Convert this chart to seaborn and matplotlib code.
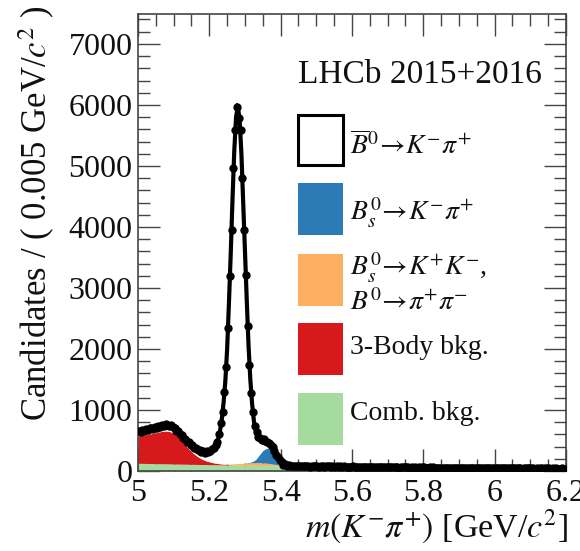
import numpy as np
import matplotlib
matplotlib.use("Agg")
import matplotlib.pyplot as plt
from matplotlib.patches import Rectangle
from matplotlib.ticker import MultipleLocator
import seaborn as sns

# --- data: m(K-pi+) candidates per 5 MeV bin, 5.0 - 6.2 GeV ---
bin_lo, bin_width = 5.0, 0.005
counts = [
    655, 640, 672, 660, 690, 668, 702, 712, 688, 720,
    705, 735, 716, 748, 730, 775, 752, 745, 760, 722,
    700, 662, 655, 610, 598, 545, 532, 480, 472, 425,
    418, 372, 375, 338, 345, 312, 325, 302, 322, 310,
    330, 358, 372, 418, 470, 610, 790, 970, 1300, 1710,
    2340, 3190, 3950, 4960, 5590, 5960, 5790, 5590, 4800, 3950,
    3220, 2380, 1740, 1280, 970, 730, 640, 560, 535, 508,
    520, 490, 480, 465, 430, 400, 330, 262, 225, 180,
    140, 98, 110, 88, 95, 82, 90, 76, 85, 80,
    78, 86, 74, 82, 77, 84, 72, 80, 75, 79,
    80, 71, 76, 83, 70, 78, 74, 81, 69, 77,
    72, 79, 68, 75, 70, 77, 66, 73, 71, 69,
    74, 65, 70, 68, 73, 63, 69, 71, 64, 68,
    62, 70, 65, 61, 68, 64, 59, 66, 63, 67,
    60, 66, 62, 58, 65, 61, 57, 63, 60, 64,
    58, 63, 56, 61, 55, 60, 57, 62, 54, 59,
    61, 53, 57, 59, 52, 58, 55, 51, 57, 54,
    52, 57, 50, 55, 53, 49, 56, 51, 54, 50,
    55, 48, 52, 50, 54, 47, 51, 53, 46, 50,
    49, 52, 45, 50, 47, 51, 44, 49, 46, 48,
    50, 44, 47, 45, 49, 43, 46, 48, 42, 47,
    43, 47, 41, 45, 44, 40, 46, 42, 45, 43,
    41, 45, 40, 43, 39, 44, 42, 38, 43, 41,
    44, 39, 42, 37, 41, 40, 36, 42, 39, 38,
]

# --- fit components on a mass grid (finer around the peak) ---
fit_mass = np.round(np.concatenate([
    np.arange(5.00, 5.215, 0.01),
    np.arange(5.220, 5.3375, 0.005),
    np.arange(5.34, 5.505, 0.01),
    np.arange(5.55, 6.205, 0.05),
]), 4)

comb_bkg = [
    126, 125, 124, 122, 121, 120, 119, 118, 117, 116, 114, 113, 112, 111, 110, 109, 108, 107, 106, 105, 104, 103,
    102, 102, 101, 101, 100, 100, 99, 99, 98, 98, 97, 97, 96, 96, 95, 95, 94, 94, 94, 93, 93, 92, 92, 91,
    91, 90, 89, 88, 87, 87, 86, 85, 84, 83, 82, 81, 81, 80, 79, 78, 77,
    74, 70, 67, 64, 61, 58, 56, 53, 51, 48, 46, 44, 42, 40,
]
threebody_bkg = [
    450, 460, 470, 482, 495, 508, 522, 535, 540, 530, 500, 455, 398, 335, 270, 210, 160, 120, 88, 64, 46, 33,
    24, 20, 16, 13, 10, 8, 6, 5, 4, 3, 2, 1, 1, 0, 0, 0, 0, 0, 0, 0, 0, 0, 0, 0,
    0, 0, 0, 0, 0, 0, 0, 0, 0, 0, 0, 0, 0, 0, 0, 0, 0,
    0, 0, 0, 0, 0, 0, 0, 0, 0, 0, 0, 0, 0, 0,
]
misid_bkg = [
    0, 0, 0, 0, 0, 0, 0, 0, 0, 0, 0, 0, 0, 0, 0, 0, 0, 0, 0, 0, 1, 2,
    3, 4, 5, 6, 8, 9, 11, 13, 15, 18, 20, 23, 26, 28, 31, 33, 35, 37, 39, 41, 42, 43, 44, 45,
    45, 43, 39, 33, 25, 17, 10, 5, 2, 1, 0, 0, 0, 0, 0, 0, 0,
    0, 0, 0, 0, 0, 0, 0, 0, 0, 0, 0, 0, 0, 0,
]
bs_kpi = [
    0, 0, 0, 0, 0, 0, 0, 0, 0, 0, 0, 0, 0, 0, 0, 0, 0, 0, 0, 0, 0, 0,
    0, 0, 0, 0, 0, 0, 0, 0, 0, 0, 0, 0, 0, 0, 1, 2, 3, 5, 8, 13, 20, 35, 55, 90,
    130, 205, 245, 250, 210, 125, 50, 15, 4, 1, 0, 0, 0, 0, 0, 0, 0,
    0, 0, 0, 0, 0, 0, 0, 0, 0, 0, 0, 0, 0, 0,
]
b0_kpi = [
    70, 72, 74, 76, 78, 80, 82, 84, 86, 88, 90, 92, 94, 96, 99, 103, 108, 115, 126, 145, 175, 228,
    311, 404, 538, 730, 1002, 1363, 1884, 2633, 3433, 4331, 5131, 5679, 5857, 5626, 5073, 4270,
    3468, 2664, 1909, 1353, 945, 650, 469, 344,
    250, 160, 110, 75, 52, 36, 25, 17, 12, 8, 5, 3, 2, 1, 1, 0, 0,
    0, 0, 0, 0, 0, 0, 0, 0, 0, 0, 0, 0, 0, 0,
]

x_ticks = [5.0, 5.2, 5.4, 5.6, 5.8, 6.0, 6.2]
x_tick_labels = ["5", "5.2", "5.4", "5.6", "5.8", "6", "6.2"]
y_ticks = [0, 1000, 2000, 3000, 4000, 5000, 6000, 7000]

colors = {
    "bs": "#2c7bb6",
    "misid": "#fdae61",
    "threebody": "#d7191c",
    "comb": "#a6dba0",
}

sns.set_theme(style="ticks")
plt.rcParams["font.family"] = ["Liberation Serif", "DejaVu Serif"]
plt.rcParams["mathtext.fontset"] = "stix"

fig = plt.figure(figsize=(5.8, 5.51), dpi=100)
ax = fig.add_axes([0.2379, 0.1452, 0.7379, 0.8294])

# stacked fit components, bottom to top
layers = [comb_bkg, threebody_bkg, misid_bkg, bs_kpi, b0_kpi]
fills = [colors["comb"], colors["threebody"], colors["misid"], colors["bs"], "white"]
base = np.zeros(len(fit_mass))
for comp, col in zip(layers, fills):
    top = base + np.asarray(comp, dtype=float)
    ax.fill_between(fit_mass, base, top, color=col, lw=0, zorder=1)
    base = top
fit_total = base

sns.lineplot(x=fit_mass, y=fit_total, color="black", lw=3.0, estimator=None,
             sort=False, ax=ax, zorder=3)

# data points
counts_arr = np.asarray(counts, dtype=float)
centers = bin_lo + bin_width * (np.arange(len(counts_arr)) + 0.5)
ax.errorbar(centers, counts_arr, yerr=np.sqrt(counts_arr), fmt="o", ms=5.0,
            color="black", ecolor="black", elinewidth=1.2, capsize=0, zorder=4)

ax.set_xlim(5.0, 6.2)
ax.set_ylim(0, 7490)
ax.set_xticks(x_ticks)
ax.set_xticklabels(x_tick_labels)
ax.set_yticks(y_ticks)
ax.set_yticklabels([str(v) for v in y_ticks])
ax.xaxis.set_minor_locator(MultipleLocator(0.05))
ax.yaxis.set_minor_locator(MultipleLocator(200))

ax.tick_params(which="both", direction="in", top=True, right=True,
               color="#444444", width=1.0, labelsize=23, labelcolor="#111111")
ax.tick_params(which="major", length=16, pad=4)
ax.tick_params(which="minor", length=8.3)
ax.tick_params(axis="x", which="major", pad=6)
for sp in ax.spines.values():
    sp.set_color("#444444")
    sp.set_linewidth(1.2)

ax.set_xlabel(r"$m(K^{-}\pi^{+})$ [GeV/$c^{2}$]", fontsize=24.5, loc="right",
              color="#111111")
ax.xaxis.set_label_coords(1.005, -0.08)
ax.set_ylabel(r"Candidates / ( 0.005 GeV/$c^{2}$ )", fontsize=25, loc="top",
              color="#111111")
ax.yaxis.set_label_coords(-0.19, 1.02)

# legend drawn by hand in axes coordinates
ax.text(0.374, 0.8665, "LHCb 2015+2016", transform=ax.transAxes,
        fontsize=24, ha="left", va="center", color="#111111", zorder=6)

box_x, box_w = 0.3738, 0.1051
entries = [
    (0.6696, 0.1094, "white", [(0.713, r"$\overline{B}^{0}\!\rightarrow\! K^{-}\pi^{+}$")]),
    (0.5164, 0.1138, colors["bs"], [(0.5646, r"$B_{s}^{0}\!\rightarrow\! K^{-}\pi^{+}$")]),
    (0.3611, 0.1138, colors["misid"], [(0.4442, r"$B_{s}^{0}\!\rightarrow\! K^{+}K^{-}$,"),
                                       (0.3676, r"$B^{0}\!\rightarrow\! \pi^{+}\pi^{-}$")]),
    (0.2101, 0.1138, colors["threebody"], [(0.2713, "3-Body bkg.")]),
    (0.0569, 0.1138, colors["comb"], [(0.1269, "Comb. bkg.")]),
]
for y0, h, col, lines in entries:
    edge = "black" if col == "white" else "none"
    ax.add_patch(Rectangle((box_x, y0), box_w, h, transform=ax.transAxes,
                           facecolor=col, edgecolor=edge, lw=2.2, zorder=6))
    for ty, txt in lines:
        ax.text(0.495, ty, txt, transform=ax.transAxes, fontsize=20,
                ha="left", va="center", color="#111111", zorder=6)

fig.savefig("out.png", dpi=100)
